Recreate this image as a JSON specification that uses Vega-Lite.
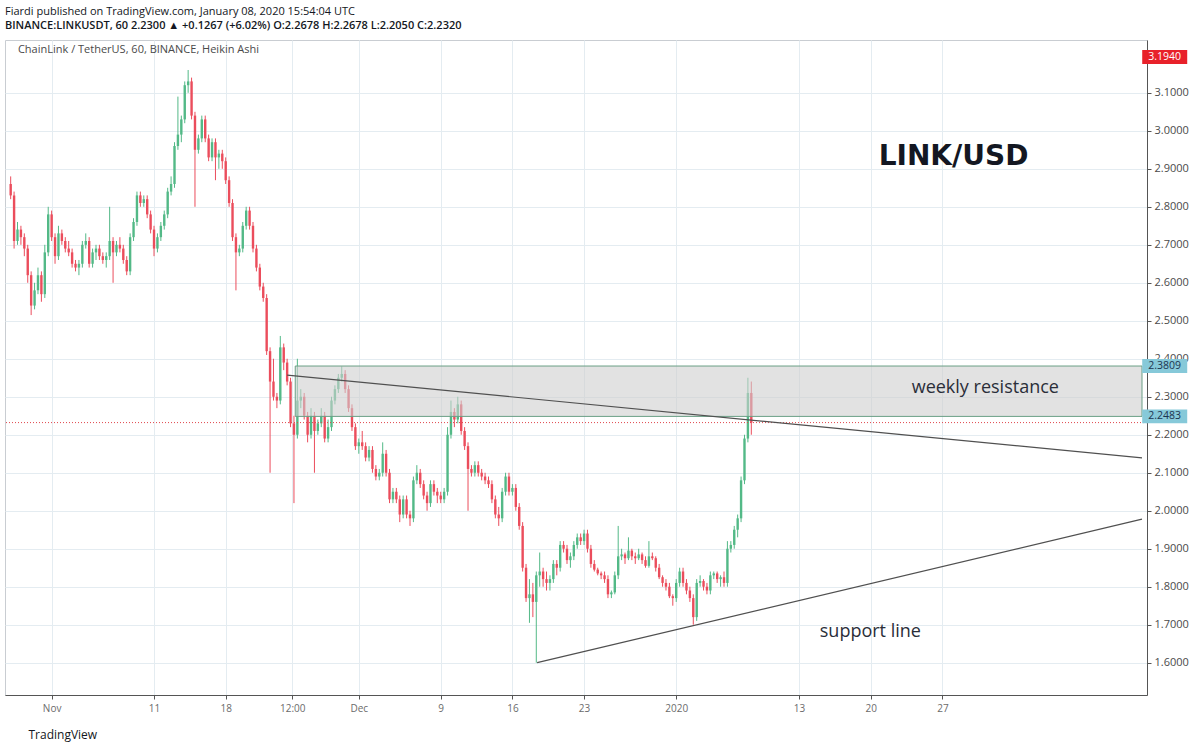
{
  "$schema": "https://vega.github.io/schema/vega-lite/v6.json",
  "autosize": "none",
  "width": 1142,
  "height": 655,
  "padding": {"left": 5, "top": 40, "right": 53, "bottom": 55},
  "background": "white",
  "title": {
    "text": "Fiardi published on TradingView.com, January 08, 2020 15:54:04 UTC",
    "subtitle": "BINANCE:LINKUSDT, 60  2.2300 ▲ +0.1267 (+6.02%)  O:2.2678  H:2.2678  L:2.2050  C:2.2320",
    "anchor": "start",
    "frame": "group",
    "offset": 9,
    "font": "Open Sans",
    "fontSize": 11,
    "fontWeight": "normal",
    "color": "#131722",
    "subtitleFont": "Open Sans",
    "subtitleFontSize": 11,
    "subtitleFontWeight": 600,
    "subtitleColor": "#131722",
    "subtitlePadding": 3
  },
  "datasets": {
    "candles": [
      {"d":"2019-10-28T00:00","o":2.86,"h":2.88,"l":2.82,"c":2.83},
      {"d":"2019-10-28T08:00","o":2.83,"h":2.84,"l":2.69,"c":2.71},
      {"d":"2019-10-28T16:00","o":2.71,"h":2.76,"l":2.70,"c":2.74},
      {"d":"2019-10-29T00:00","o":2.74,"h":2.75,"l":2.70,"c":2.72},
      {"d":"2019-10-29T08:00","o":2.72,"h":2.73,"l":2.67,"c":2.69},
      {"d":"2019-10-29T16:00","o":2.69,"h":2.70,"l":2.60,"c":2.62},
      {"d":"2019-10-30T00:00","o":2.62,"h":2.63,"l":2.515,"c":2.54},
      {"d":"2019-10-30T08:00","o":2.54,"h":2.60,"l":2.53,"c":2.58},
      {"d":"2019-10-30T16:00","o":2.58,"h":2.64,"l":2.57,"c":2.62},
      {"d":"2019-10-31T00:00","o":2.62,"h":2.63,"l":2.55,"c":2.57},
      {"d":"2019-10-31T08:00","o":2.57,"h":2.70,"l":2.56,"c":2.68},
      {"d":"2019-10-31T16:00","o":2.68,"h":2.80,"l":2.67,"c":2.78},
      {"d":"2019-11-01T00:00","o":2.78,"h":2.79,"l":2.71,"c":2.72},
      {"d":"2019-11-01T08:00","o":2.72,"h":2.73,"l":2.65,"c":2.67},
      {"d":"2019-11-01T16:00","o":2.67,"h":2.75,"l":2.66,"c":2.73},
      {"d":"2019-11-02T00:00","o":2.73,"h":2.74,"l":2.70,"c":2.71},
      {"d":"2019-11-02T08:00","o":2.71,"h":2.72,"l":2.68,"c":2.69},
      {"d":"2019-11-02T16:00","o":2.69,"h":2.71,"l":2.67,"c":2.68},
      {"d":"2019-11-03T00:00","o":2.68,"h":2.69,"l":2.64,"c":2.65},
      {"d":"2019-11-03T08:00","o":2.65,"h":2.66,"l":2.63,"c":2.64},
      {"d":"2019-11-03T16:00","o":2.64,"h":2.66,"l":2.62,"c":2.65},
      {"d":"2019-11-04T00:00","o":2.65,"h":2.71,"l":2.64,"c":2.70},
      {"d":"2019-11-04T08:00","o":2.70,"h":2.73,"l":2.69,"c":2.71},
      {"d":"2019-11-04T16:00","o":2.71,"h":2.72,"l":2.64,"c":2.65},
      {"d":"2019-11-05T00:00","o":2.65,"h":2.69,"l":2.64,"c":2.68},
      {"d":"2019-11-05T08:00","o":2.68,"h":2.70,"l":2.66,"c":2.69},
      {"d":"2019-11-05T16:00","o":2.69,"h":2.70,"l":2.66,"c":2.67},
      {"d":"2019-11-06T00:00","o":2.67,"h":2.68,"l":2.65,"c":2.66},
      {"d":"2019-11-06T08:00","o":2.66,"h":2.68,"l":2.64,"c":2.67},
      {"d":"2019-11-06T16:00","o":2.67,"h":2.80,"l":2.66,"c":2.71},
      {"d":"2019-11-07T00:00","o":2.71,"h":2.72,"l":2.60,"c":2.68},
      {"d":"2019-11-07T08:00","o":2.68,"h":2.71,"l":2.67,"c":2.70},
      {"d":"2019-11-07T16:00","o":2.70,"h":2.72,"l":2.68,"c":2.69},
      {"d":"2019-11-08T00:00","o":2.69,"h":2.70,"l":2.65,"c":2.66},
      {"d":"2019-11-08T08:00","o":2.66,"h":2.67,"l":2.62,"c":2.63},
      {"d":"2019-11-08T16:00","o":2.63,"h":2.73,"l":2.62,"c":2.72},
      {"d":"2019-11-09T00:00","o":2.72,"h":2.77,"l":2.71,"c":2.76},
      {"d":"2019-11-09T08:00","o":2.76,"h":2.84,"l":2.75,"c":2.83},
      {"d":"2019-11-09T16:00","o":2.83,"h":2.84,"l":2.80,"c":2.81},
      {"d":"2019-11-10T00:00","o":2.81,"h":2.83,"l":2.80,"c":2.82},
      {"d":"2019-11-10T08:00","o":2.82,"h":2.83,"l":2.77,"c":2.78},
      {"d":"2019-11-10T16:00","o":2.78,"h":2.79,"l":2.73,"c":2.74},
      {"d":"2019-11-11T00:00","o":2.74,"h":2.75,"l":2.67,"c":2.69},
      {"d":"2019-11-11T08:00","o":2.69,"h":2.73,"l":2.68,"c":2.72},
      {"d":"2019-11-11T16:00","o":2.72,"h":2.76,"l":2.71,"c":2.75},
      {"d":"2019-11-12T00:00","o":2.75,"h":2.79,"l":2.74,"c":2.78},
      {"d":"2019-11-12T08:00","o":2.78,"h":2.85,"l":2.77,"c":2.84},
      {"d":"2019-11-12T16:00","o":2.84,"h":2.88,"l":2.83,"c":2.86},
      {"d":"2019-11-13T00:00","o":2.86,"h":2.97,"l":2.85,"c":2.96},
      {"d":"2019-11-13T08:00","o":2.96,"h":3.09,"l":2.95,"c":2.99},
      {"d":"2019-11-13T16:00","o":2.99,"h":3.04,"l":2.97,"c":3.03},
      {"d":"2019-11-14T00:00","o":3.03,"h":3.13,"l":3.02,"c":3.12},
      {"d":"2019-11-14T08:00","o":3.12,"h":3.16,"l":3.10,"c":3.13},
      {"d":"2019-11-14T16:00","o":3.13,"h":3.14,"l":3.03,"c":3.04},
      {"d":"2019-11-15T00:00","o":3.04,"h":3.05,"l":2.80,"c":2.95},
      {"d":"2019-11-15T08:00","o":2.95,"h":2.99,"l":2.94,"c":2.98},
      {"d":"2019-11-15T16:00","o":2.98,"h":3.04,"l":2.97,"c":3.03},
      {"d":"2019-11-16T00:00","o":3.03,"h":3.04,"l":2.97,"c":2.98},
      {"d":"2019-11-16T08:00","o":2.98,"h":2.99,"l":2.92,"c":2.93},
      {"d":"2019-11-16T16:00","o":2.93,"h":2.98,"l":2.92,"c":2.97},
      {"d":"2019-11-17T00:00","o":2.97,"h":2.98,"l":2.87,"c":2.93},
      {"d":"2019-11-17T08:00","o":2.93,"h":2.95,"l":2.90,"c":2.94},
      {"d":"2019-11-17T16:00","o":2.94,"h":2.95,"l":2.90,"c":2.92},
      {"d":"2019-11-18T00:00","o":2.92,"h":2.93,"l":2.86,"c":2.87},
      {"d":"2019-11-18T08:00","o":2.87,"h":2.88,"l":2.80,"c":2.81},
      {"d":"2019-11-18T16:00","o":2.81,"h":2.82,"l":2.71,"c":2.72},
      {"d":"2019-11-19T00:00","o":2.72,"h":2.73,"l":2.58,"c":2.68},
      {"d":"2019-11-19T08:00","o":2.68,"h":2.70,"l":2.67,"c":2.69},
      {"d":"2019-11-19T16:00","o":2.69,"h":2.76,"l":2.68,"c":2.75},
      {"d":"2019-11-20T00:00","o":2.75,"h":2.80,"l":2.74,"c":2.79},
      {"d":"2019-11-20T08:00","o":2.79,"h":2.80,"l":2.74,"c":2.75},
      {"d":"2019-11-20T16:00","o":2.75,"h":2.76,"l":2.68,"c":2.69},
      {"d":"2019-11-21T00:00","o":2.69,"h":2.70,"l":2.63,"c":2.64},
      {"d":"2019-11-21T08:00","o":2.64,"h":2.65,"l":2.58,"c":2.59},
      {"d":"2019-11-21T16:00","o":2.59,"h":2.60,"l":2.55,"c":2.56},
      {"d":"2019-11-22T00:00","o":2.56,"h":2.57,"l":2.41,"c":2.42},
      {"d":"2019-11-22T08:00","o":2.42,"h":2.43,"l":2.10,"c":2.34},
      {"d":"2019-11-22T16:00","o":2.34,"h":2.40,"l":2.29,"c":2.30},
      {"d":"2019-11-23T00:00","o":2.30,"h":2.31,"l":2.27,"c":2.29},
      {"d":"2019-11-23T08:00","o":2.29,"h":2.46,"l":2.28,"c":2.43},
      {"d":"2019-11-23T16:00","o":2.43,"h":2.44,"l":2.37,"c":2.39},
      {"d":"2019-11-24T00:00","o":2.39,"h":2.40,"l":2.33,"c":2.34},
      {"d":"2019-11-24T08:00","o":2.34,"h":2.35,"l":2.22,"c":2.23},
      {"d":"2019-11-24T16:00","o":2.23,"h":2.25,"l":2.02,"c":2.20},
      {"d":"2019-11-25T00:00","o":2.20,"h":2.40,"l":2.19,"c":2.29},
      {"d":"2019-11-25T08:00","o":2.29,"h":2.32,"l":2.27,"c":2.30},
      {"d":"2019-11-25T16:00","o":2.30,"h":2.31,"l":2.24,"c":2.25},
      {"d":"2019-11-26T00:00","o":2.25,"h":2.26,"l":2.18,"c":2.20},
      {"d":"2019-11-26T08:00","o":2.20,"h":2.27,"l":2.19,"c":2.25},
      {"d":"2019-11-26T16:00","o":2.25,"h":2.26,"l":2.10,"c":2.21},
      {"d":"2019-11-27T00:00","o":2.21,"h":2.24,"l":2.20,"c":2.23},
      {"d":"2019-11-27T08:00","o":2.23,"h":2.27,"l":2.22,"c":2.25},
      {"d":"2019-11-27T16:00","o":2.25,"h":2.26,"l":2.18,"c":2.19},
      {"d":"2019-11-28T00:00","o":2.19,"h":2.24,"l":2.18,"c":2.22},
      {"d":"2019-11-28T08:00","o":2.22,"h":2.30,"l":2.21,"c":2.29},
      {"d":"2019-11-28T16:00","o":2.29,"h":2.33,"l":2.28,"c":2.32},
      {"d":"2019-11-29T00:00","o":2.32,"h":2.36,"l":2.31,"c":2.35},
      {"d":"2019-11-29T08:00","o":2.35,"h":2.38,"l":2.34,"c":2.36},
      {"d":"2019-11-29T16:00","o":2.36,"h":2.37,"l":2.31,"c":2.32},
      {"d":"2019-11-30T00:00","o":2.32,"h":2.33,"l":2.26,"c":2.27},
      {"d":"2019-11-30T08:00","o":2.27,"h":2.28,"l":2.21,"c":2.22},
      {"d":"2019-11-30T16:00","o":2.22,"h":2.23,"l":2.16,"c":2.17},
      {"d":"2019-12-01T00:00","o":2.17,"h":2.19,"l":2.15,"c":2.18},
      {"d":"2019-12-01T08:00","o":2.18,"h":2.21,"l":2.16,"c":2.17},
      {"d":"2019-12-01T16:00","o":2.17,"h":2.18,"l":2.13,"c":2.14},
      {"d":"2019-12-02T00:00","o":2.14,"h":2.17,"l":2.13,"c":2.16},
      {"d":"2019-12-02T08:00","o":2.16,"h":2.17,"l":2.10,"c":2.11},
      {"d":"2019-12-02T16:00","o":2.11,"h":2.12,"l":2.08,"c":2.09},
      {"d":"2019-12-03T00:00","o":2.09,"h":2.11,"l":2.08,"c":2.10},
      {"d":"2019-12-03T08:00","o":2.10,"h":2.18,"l":2.09,"c":2.15},
      {"d":"2019-12-03T16:00","o":2.15,"h":2.16,"l":2.09,"c":2.10},
      {"d":"2019-12-04T00:00","o":2.10,"h":2.11,"l":2.02,"c":2.03},
      {"d":"2019-12-04T08:00","o":2.03,"h":2.06,"l":2.02,"c":2.05},
      {"d":"2019-12-04T16:00","o":2.05,"h":2.06,"l":2.02,"c":2.03},
      {"d":"2019-12-05T00:00","o":2.03,"h":2.04,"l":1.97,"c":1.99},
      {"d":"2019-12-05T08:00","o":1.99,"h":2.04,"l":1.98,"c":2.03},
      {"d":"2019-12-05T16:00","o":2.03,"h":2.04,"l":1.98,"c":1.99},
      {"d":"2019-12-06T00:00","o":1.99,"h":2.00,"l":1.96,"c":1.98},
      {"d":"2019-12-06T08:00","o":1.98,"h":2.09,"l":1.97,"c":2.08},
      {"d":"2019-12-06T16:00","o":2.08,"h":2.12,"l":2.07,"c":2.10},
      {"d":"2019-12-07T00:00","o":2.10,"h":2.11,"l":2.06,"c":2.07},
      {"d":"2019-12-07T08:00","o":2.07,"h":2.08,"l":2.03,"c":2.04},
      {"d":"2019-12-07T16:00","o":2.04,"h":2.05,"l":2.00,"c":2.02},
      {"d":"2019-12-08T00:00","o":2.02,"h":2.08,"l":2.01,"c":2.07},
      {"d":"2019-12-08T08:00","o":2.07,"h":2.08,"l":2.04,"c":2.05},
      {"d":"2019-12-08T16:00","o":2.05,"h":2.06,"l":2.02,"c":2.04},
      {"d":"2019-12-09T00:00","o":2.04,"h":2.05,"l":2.02,"c":2.03},
      {"d":"2019-12-09T08:00","o":2.03,"h":2.06,"l":2.02,"c":2.05},
      {"d":"2019-12-09T16:00","o":2.05,"h":2.22,"l":2.04,"c":2.20},
      {"d":"2019-12-10T00:00","o":2.20,"h":2.29,"l":2.19,"c":2.26},
      {"d":"2019-12-10T08:00","o":2.26,"h":2.27,"l":2.22,"c":2.24},
      {"d":"2019-12-10T16:00","o":2.24,"h":2.30,"l":2.23,"c":2.28},
      {"d":"2019-12-11T00:00","o":2.28,"h":2.29,"l":2.20,"c":2.21},
      {"d":"2019-12-11T08:00","o":2.21,"h":2.22,"l":2.16,"c":2.17},
      {"d":"2019-12-11T16:00","o":2.17,"h":2.18,"l":2.00,"c":2.11},
      {"d":"2019-12-12T00:00","o":2.11,"h":2.12,"l":2.09,"c":2.10},
      {"d":"2019-12-12T08:00","o":2.10,"h":2.13,"l":2.09,"c":2.12},
      {"d":"2019-12-12T16:00","o":2.12,"h":2.13,"l":2.09,"c":2.10},
      {"d":"2019-12-13T00:00","o":2.10,"h":2.11,"l":2.08,"c":2.09},
      {"d":"2019-12-13T08:00","o":2.09,"h":2.10,"l":2.07,"c":2.08},
      {"d":"2019-12-13T16:00","o":2.08,"h":2.09,"l":2.06,"c":2.07},
      {"d":"2019-12-14T00:00","o":2.07,"h":2.08,"l":2.02,"c":2.03},
      {"d":"2019-12-14T08:00","o":2.03,"h":2.04,"l":1.98,"c":1.99},
      {"d":"2019-12-14T16:00","o":1.99,"h":2.01,"l":1.96,"c":1.98},
      {"d":"2019-12-15T00:00","o":1.98,"h":2.06,"l":1.97,"c":2.05},
      {"d":"2019-12-15T08:00","o":2.05,"h":2.10,"l":2.04,"c":2.09},
      {"d":"2019-12-15T16:00","o":2.09,"h":2.10,"l":2.04,"c":2.05},
      {"d":"2019-12-16T00:00","o":2.05,"h":2.07,"l":2.04,"c":2.06},
      {"d":"2019-12-16T08:00","o":2.06,"h":2.07,"l":2.00,"c":2.01},
      {"d":"2019-12-16T16:00","o":2.01,"h":2.02,"l":1.95,"c":1.96},
      {"d":"2019-12-17T00:00","o":1.96,"h":1.97,"l":1.84,"c":1.85},
      {"d":"2019-12-17T08:00","o":1.85,"h":1.86,"l":1.76,"c":1.77},
      {"d":"2019-12-17T16:00","o":1.77,"h":1.82,"l":1.705,"c":1.78},
      {"d":"2019-12-18T00:00","o":1.78,"h":1.81,"l":1.72,"c":1.76},
      {"d":"2019-12-18T08:00","o":1.76,"h":1.84,"l":1.60,"c":1.83},
      {"d":"2019-12-18T16:00","o":1.83,"h":1.89,"l":1.80,"c":1.84},
      {"d":"2019-12-19T00:00","o":1.84,"h":1.85,"l":1.80,"c":1.82},
      {"d":"2019-12-19T08:00","o":1.82,"h":1.84,"l":1.79,"c":1.81},
      {"d":"2019-12-19T16:00","o":1.81,"h":1.83,"l":1.79,"c":1.82},
      {"d":"2019-12-20T00:00","o":1.82,"h":1.87,"l":1.81,"c":1.86},
      {"d":"2019-12-20T08:00","o":1.86,"h":1.87,"l":1.83,"c":1.85},
      {"d":"2019-12-20T16:00","o":1.85,"h":1.92,"l":1.84,"c":1.91},
      {"d":"2019-12-21T00:00","o":1.91,"h":1.92,"l":1.89,"c":1.90},
      {"d":"2019-12-21T08:00","o":1.90,"h":1.91,"l":1.86,"c":1.87},
      {"d":"2019-12-21T16:00","o":1.87,"h":1.89,"l":1.85,"c":1.88},
      {"d":"2019-12-22T00:00","o":1.88,"h":1.92,"l":1.87,"c":1.91},
      {"d":"2019-12-22T08:00","o":1.91,"h":1.94,"l":1.90,"c":1.93},
      {"d":"2019-12-22T16:00","o":1.93,"h":1.94,"l":1.91,"c":1.92},
      {"d":"2019-12-23T00:00","o":1.92,"h":1.95,"l":1.91,"c":1.94},
      {"d":"2019-12-23T08:00","o":1.94,"h":1.95,"l":1.89,"c":1.90},
      {"d":"2019-12-23T16:00","o":1.90,"h":1.91,"l":1.85,"c":1.86},
      {"d":"2019-12-24T00:00","o":1.86,"h":1.87,"l":1.84,"c":1.845},
      {"d":"2019-12-24T08:00","o":1.845,"h":1.85,"l":1.83,"c":1.835},
      {"d":"2019-12-24T16:00","o":1.835,"h":1.84,"l":1.82,"c":1.83},
      {"d":"2019-12-25T00:00","o":1.83,"h":1.84,"l":1.81,"c":1.82},
      {"d":"2019-12-25T08:00","o":1.82,"h":1.83,"l":1.77,"c":1.78},
      {"d":"2019-12-25T16:00","o":1.78,"h":1.79,"l":1.77,"c":1.785},
      {"d":"2019-12-26T00:00","o":1.785,"h":1.84,"l":1.78,"c":1.83},
      {"d":"2019-12-26T08:00","o":1.83,"h":1.96,"l":1.82,"c":1.88},
      {"d":"2019-12-26T16:00","o":1.88,"h":1.90,"l":1.87,"c":1.885},
      {"d":"2019-12-27T00:00","o":1.885,"h":1.89,"l":1.86,"c":1.875},
      {"d":"2019-12-27T08:00","o":1.875,"h":1.93,"l":1.87,"c":1.895},
      {"d":"2019-12-27T16:00","o":1.895,"h":1.90,"l":1.87,"c":1.88},
      {"d":"2019-12-28T00:00","o":1.88,"h":1.89,"l":1.86,"c":1.875},
      {"d":"2019-12-28T08:00","o":1.875,"h":1.90,"l":1.87,"c":1.885},
      {"d":"2019-12-28T16:00","o":1.885,"h":1.89,"l":1.86,"c":1.87},
      {"d":"2019-12-29T00:00","o":1.87,"h":1.88,"l":1.85,"c":1.855},
      {"d":"2019-12-29T08:00","o":1.855,"h":1.92,"l":1.85,"c":1.88},
      {"d":"2019-12-29T16:00","o":1.88,"h":1.89,"l":1.87,"c":1.875},
      {"d":"2019-12-30T00:00","o":1.875,"h":1.88,"l":1.84,"c":1.85},
      {"d":"2019-12-30T08:00","o":1.85,"h":1.86,"l":1.82,"c":1.825},
      {"d":"2019-12-30T16:00","o":1.825,"h":1.83,"l":1.80,"c":1.81},
      {"d":"2019-12-31T00:00","o":1.81,"h":1.82,"l":1.79,"c":1.80},
      {"d":"2019-12-31T08:00","o":1.80,"h":1.81,"l":1.77,"c":1.775},
      {"d":"2019-12-31T16:00","o":1.775,"h":1.78,"l":1.75,"c":1.77},
      {"d":"2020-01-01T00:00","o":1.77,"h":1.82,"l":1.76,"c":1.81},
      {"d":"2020-01-01T08:00","o":1.81,"h":1.85,"l":1.80,"c":1.84},
      {"d":"2020-01-01T16:00","o":1.84,"h":1.85,"l":1.80,"c":1.81},
      {"d":"2020-01-02T00:00","o":1.81,"h":1.82,"l":1.78,"c":1.79},
      {"d":"2020-01-02T08:00","o":1.79,"h":1.80,"l":1.76,"c":1.77},
      {"d":"2020-01-02T16:00","o":1.77,"h":1.78,"l":1.70,"c":1.72},
      {"d":"2020-01-03T00:00","o":1.72,"h":1.82,"l":1.71,"c":1.81},
      {"d":"2020-01-03T08:00","o":1.81,"h":1.83,"l":1.80,"c":1.815},
      {"d":"2020-01-03T16:00","o":1.815,"h":1.82,"l":1.79,"c":1.80},
      {"d":"2020-01-04T00:00","o":1.80,"h":1.81,"l":1.78,"c":1.79},
      {"d":"2020-01-04T08:00","o":1.79,"h":1.84,"l":1.78,"c":1.83},
      {"d":"2020-01-04T16:00","o":1.83,"h":1.84,"l":1.82,"c":1.835},
      {"d":"2020-01-05T00:00","o":1.835,"h":1.84,"l":1.81,"c":1.82},
      {"d":"2020-01-05T08:00","o":1.82,"h":1.83,"l":1.80,"c":1.825},
      {"d":"2020-01-05T16:00","o":1.825,"h":1.84,"l":1.80,"c":1.81},
      {"d":"2020-01-06T00:00","o":1.81,"h":1.92,"l":1.80,"c":1.90},
      {"d":"2020-01-06T08:00","o":1.90,"h":1.92,"l":1.89,"c":1.91},
      {"d":"2020-01-06T16:00","o":1.91,"h":1.96,"l":1.90,"c":1.95},
      {"d":"2020-01-07T00:00","o":1.95,"h":1.99,"l":1.93,"c":1.98},
      {"d":"2020-01-07T08:00","o":1.98,"h":2.09,"l":1.97,"c":2.08},
      {"d":"2020-01-07T16:00","o":2.08,"h":2.20,"l":2.07,"c":2.19},
      {"d":"2020-01-08T00:00","o":2.19,"h":2.35,"l":2.18,"c":2.31},
      {"d":"2020-01-08T08:00","o":2.31,"h":2.34,"l":2.20,"c":2.232}
    ],
    "zones": [
      {"from":"2019-11-24T19:00","to":"2020-02-15T11:45","top":2.3809,"bottom":2.2483}
    ],
    "trendlines": [
      {"name":"resistance","from":"2019-11-24T00:00","to":"2020-02-15T11:45","p1":2.357,"p2":2.139},
      {"name":"support","from":"2019-12-18T10:00","to":"2020-02-15T11:45","p1":1.60,"p2":1.978}
    ],
    "last": [{"p":2.232}],
    "tags": [
      {"p":3.194,"kind":"high"},
      {"p":2.3809,"kind":"zone"},
      {"p":2.2483,"kind":"zone"}
    ],
    "notes": [
      {"kind":"legend","d":"2019-10-28T17:00","p":3.212,"text":"ChainLink / TetherUS, 60, BINANCE, Heikin Ashi"},
      {"kind":"title","d":"2020-01-28T02:00","p":2.931,"text":"LINK/USD"},
      {"kind":"label","d":"2020-01-31T04:30","p":2.323,"text":"weekly resistance"},
      {"kind":"label","d":"2020-01-19T23:00","p":1.681,"text":"support line"}
    ]
  },
  "layer": [
    {
      "data": {"name": "candles"},
      "mark": {"type": "rule", "strokeWidth": 1},
      "encoding": {
        "x": {
          "field": "d",
          "type": "temporal",
          "scale": {
            "domain": [
              {"year": 2019, "month": 10, "date": 27, "hours": 22, "minutes": 25},
              {"year": 2020, "month": 2, "date": 15, "hours": 11, "minutes": 45}
            ]
          },
          "axis": {
            "values": [
              {"year": 2019, "month": 11, "date": 1},
              {"year": 2019, "month": 11, "date": 11},
              {"year": 2019, "month": 11, "date": 18},
              {"year": 2019, "month": 11, "date": 24, "hours": 12},
              {"year": 2019, "month": 12, "date": 1},
              {"year": 2019, "month": 12, "date": 9},
              {"year": 2019, "month": 12, "date": 16},
              {"year": 2019, "month": 12, "date": 23},
              {"year": 2020, "month": 1, "date": 1},
              {"year": 2020, "month": 1, "date": 13},
              {"year": 2020, "month": 1, "date": 20},
              {"year": 2020, "month": 1, "date": 27}
            ],
            "labelExpr": "timeFormat(datum.value, '%H') == '12' ? '12:00' : timeFormat(datum.value, '%d') == '01' ? (timeFormat(datum.value, '%m') == '01' ? timeFormat(datum.value, '%Y') : timeFormat(datum.value, '%b')) : timeFormat(datum.value, '%-d')",
            "labelFont": "Open Sans",
            "labelFontSize": 10,
            "labelColor": "#6b6b6b",
            "labelPadding": 4,
            "tickSize": 4,
            "tickColor": "#555555",
            "domainColor": "#555555",
            "grid": true,
            "gridColor": "#e4ecf1",
            "title": "TradingView",
            "titleFont": "Open Sans",
            "titleFontSize": 12,
            "titleFontWeight": "normal",
            "titleColor": "#131722",
            "titleAlign": "left",
            "titleBaseline": "middle",
            "titleX": 23,
            "titleY": 39
          }
        },
        "y": {
          "field": "l",
          "type": "quantitative",
          "scale": {"domain": [1.515, 3.239], "zero": false, "nice": false},
          "axis": {
            "orient": "right",
            "values": [1.6, 1.7, 1.8, 1.9, 2.0, 2.1, 2.2, 2.3, 2.4, 2.5, 2.6, 2.7, 2.8, 2.9, 3.0, 3.1],
            "format": ".4f",
            "labelFont": "Open Sans",
            "labelFontSize": 11,
            "labelColor": "#4a4a4a",
            "labelPadding": 3,
            "tickSize": 4,
            "tickColor": "#555555",
            "domainColor": "#555555",
            "grid": true,
            "gridColor": "#e4ecf1",
            "title": null
          }
        },
        "y2": {"field": "h"},
        "color": {
          "condition": {"test": "datum.c >= datum.o", "value": "#53b987"},
          "value": "#eb4d5c"
        }
      }
    },
    {
      "data": {"name": "candles"},
      "mark": {"type": "bar", "width": 2.4},
      "encoding": {
        "x": {"field": "d", "type": "temporal"},
        "y": {"field": "o", "type": "quantitative"},
        "y2": {"field": "c"},
        "color": {
          "condition": {"test": "datum.c >= datum.o", "value": "#53b987"},
          "value": "#eb4d5c"
        }
      }
    },
    {
      "data": {"name": "last"},
      "mark": {"type": "rule", "color": "#e0474c", "strokeWidth": 1, "strokeDash": [1, 2]},
      "encoding": {
        "y": {"field": "p", "type": "quantitative"}
      }
    },
    {
      "data": {"name": "zones"},
      "mark": {"type": "rect", "fill": "#cfcfcf", "fillOpacity": 0.6, "stroke": "#6a9f86", "strokeWidth": 1, "clip": true},
      "encoding": {
        "x": {"field": "from", "type": "temporal"},
        "x2": {"field": "to"},
        "y": {"field": "top", "type": "quantitative"},
        "y2": {"field": "bottom"}
      }
    },
    {
      "data": {"name": "trendlines"},
      "mark": {"type": "rule", "color": "#505050", "strokeWidth": 1.2, "clip": true},
      "encoding": {
        "x": {"field": "from", "type": "temporal"},
        "x2": {"field": "to"},
        "y": {"field": "p1", "type": "quantitative"},
        "y2": {"field": "p2"}
      }
    },
    {
      "data": {"name": "notes"},
      "transform": [{"filter": "datum.kind == 'legend'"}],
      "mark": {"type": "text", "align": "left", "baseline": "middle", "font": "Open Sans", "fontSize": 11, "color": "#4a4a4a"},
      "encoding": {
        "x": {"field": "d", "type": "temporal"},
        "y": {"field": "p", "type": "quantitative"},
        "text": {"field": "text"}
      }
    },
    {
      "data": {"name": "notes"},
      "transform": [{"filter": "datum.kind == 'title'"}],
      "mark": {"type": "text", "align": "center", "baseline": "middle", "font": "DejaVu Sans", "fontWeight": "bold", "fontSize": 28, "color": "#131722"},
      "encoding": {
        "x": {"field": "d", "type": "temporal"},
        "y": {"field": "p", "type": "quantitative"},
        "text": {"field": "text"}
      }
    },
    {
      "data": {"name": "notes"},
      "transform": [{"filter": "datum.kind == 'label'"}],
      "mark": {"type": "text", "align": "center", "baseline": "middle", "font": "Open Sans", "fontSize": 18, "color": "#2a2e39"},
      "encoding": {
        "x": {"field": "d", "type": "temporal"},
        "y": {"field": "p", "type": "quantitative"},
        "text": {"field": "text"}
      }
    },
    {
      "data": {"name": "tags"},
      "mark": {"type": "point", "shape": "M-1,-0.31H1V0.31H-1Z", "size": 2025, "filled": true, "opacity": 1, "strokeWidth": 0},
      "encoding": {
        "x": {"datum": {"year": 2020, "month": 2, "date": 17, "hours": 17}, "type": "temporal"},
        "y": {"field": "p", "type": "quantitative"},
        "color": {
          "condition": {"test": "datum.kind == 'high'", "value": "#e8212a"},
          "value": "#86c9d9"
        }
      }
    },
    {
      "data": {"name": "tags"},
      "mark": {"type": "text", "align": "center", "baseline": "middle", "font": "Open Sans", "fontSize": 10.5},
      "encoding": {
        "x": {"datum": {"year": 2020, "month": 2, "date": 17, "hours": 17}, "type": "temporal"},
        "y": {"field": "p", "type": "quantitative"},
        "text": {"field": "p", "type": "quantitative", "format": ".4f"},
        "color": {
          "condition": {"test": "datum.kind == 'high'", "value": "#ffffff"},
          "value": "#1c3550"
        }
      }
    }
  ],
  "config": {
    "view": {"stroke": "#c9cdd2"},
    "font": "Open Sans"
  }
}
